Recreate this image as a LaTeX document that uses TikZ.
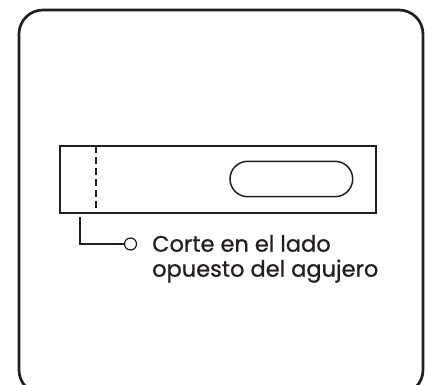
\documentclass[tikz,border=0pt]{standalone}
\usepackage{fontspec}
\setmainfont{Poppins}[FakeBold=0.8]
\definecolor{ink}{HTML}{231F20}
\begin{document}
\begin{tikzpicture}[x=1pt,y=-1pt,
  frame/.style={draw=ink,line width=2.7pt,rounded corners=24pt},
  strip/.style={draw=ink,line width=2pt},
  cutline/.style={draw=ink,line width=2pt,dash pattern=on 7pt off 4pt},
  slot/.style={draw=ink,line width=1.5pt},
  leader/.style={draw=ink,line width=1.5pt},
  label/.style={text=ink,font=\fontsize{22.5}{25}\selectfont,anchor=base west,inner sep=0pt}]
\useasboundingbox (0,0) rectangle (428,385);
\draw[frame] (19,10) rectangle (423,394);
\node[strip,minimum width=315.7pt,minimum height=66.7pt,inner sep=0pt] (strip) at (217.85,179.35) {};
\coordinate (ctop) at (96,146);
\coordinate (cbot) at (96,212.7);
\draw[cutline] (ctop) -- (cbot);
\node[slot,minimum width=122.7pt,minimum height=35.4pt,rounded corners=17.7pt,inner sep=0pt] (slot) at (291.35,179) {};
\coordinate (lstart) at (80,217);
\coordinate (lcorner) at (80,244);
\node[draw=ink,line width=1.2pt,circle,minimum size=12pt,inner sep=0pt,fill=white] (dot) at (130.5,244) {};
\draw[leader] (lstart) -- (lcorner) -- (dot.west);
\node[label] (txt1) at (152,251.7) {Corte en el lado};
\node[label] (txt2) at (152,276.7) {opuesto del agujero};
\end{tikzpicture}
\end{document}
